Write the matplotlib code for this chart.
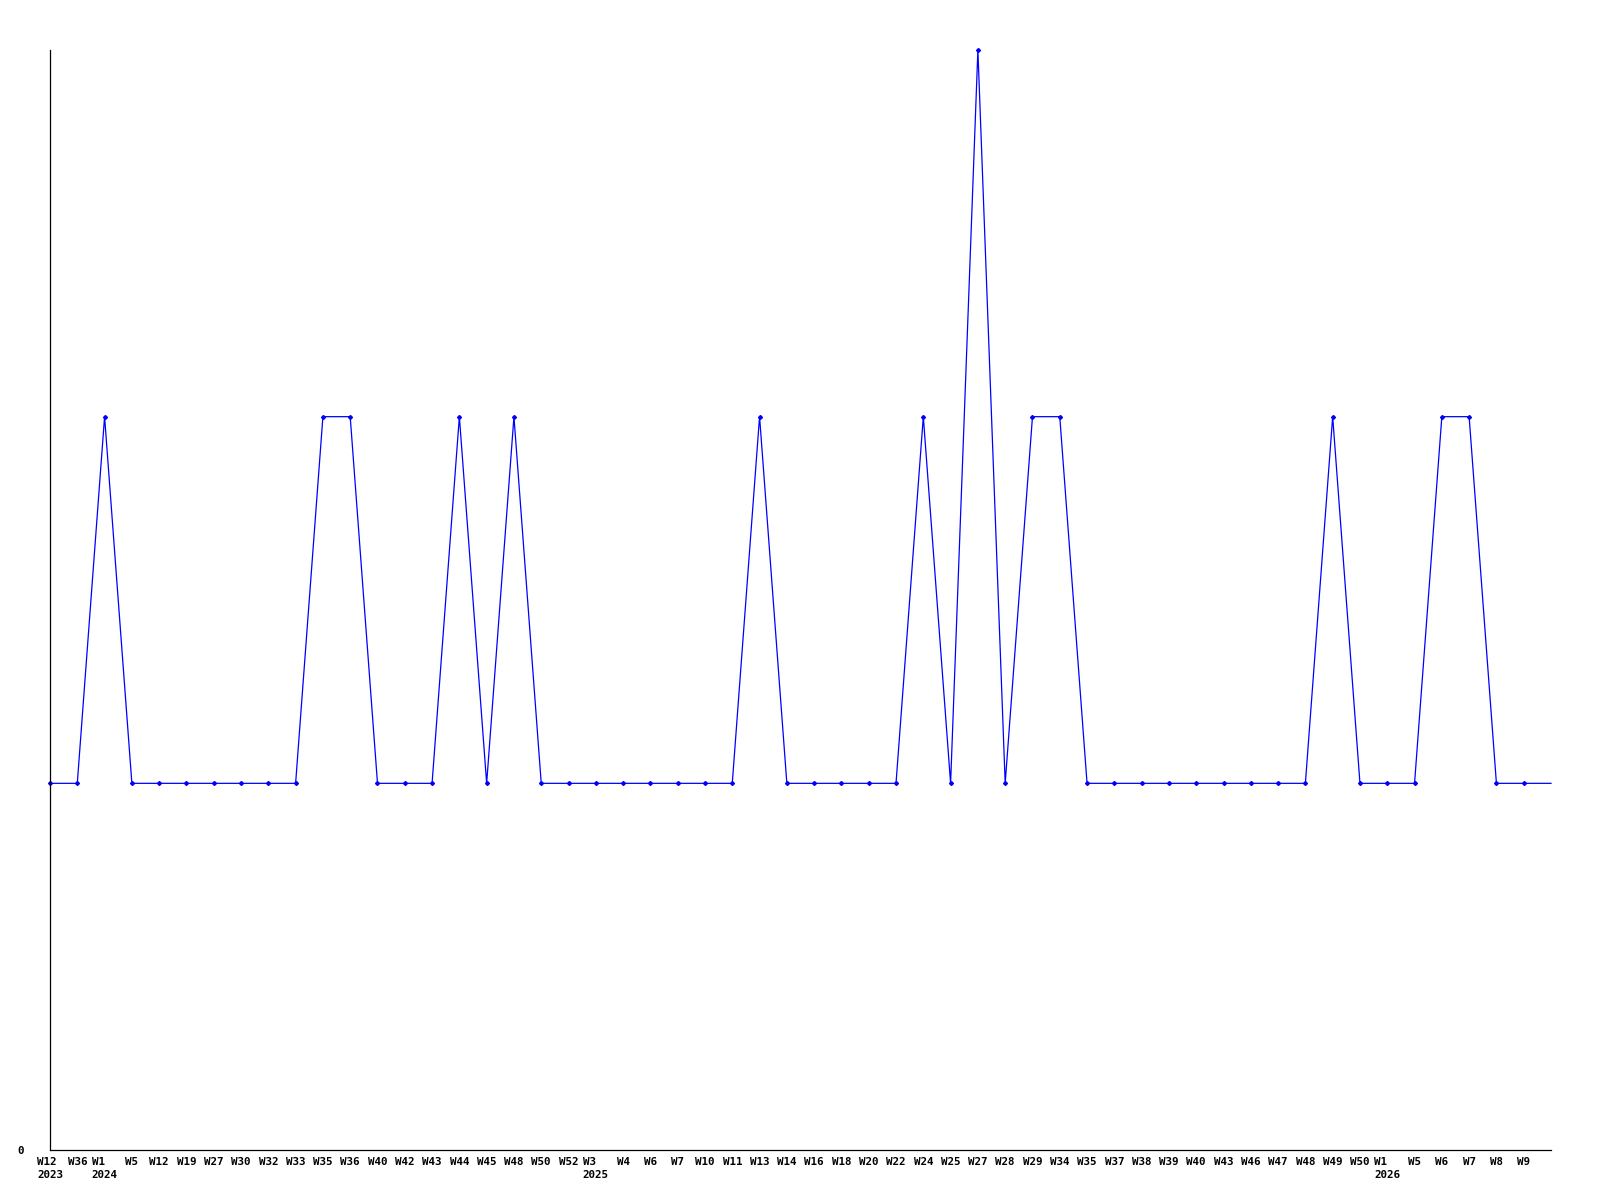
import matplotlib
matplotlib.use("Agg")
import matplotlib.pyplot as plt

weeks = ["W12", "W36", "W1", "W5", "W12", "W19", "W27", "W30", "W32", "W33",
         "W35", "W36", "W40", "W42", "W43", "W44", "W45", "W48", "W50", "W52",
         "W3", "W4", "W6", "W7", "W10", "W11", "W13", "W14", "W16", "W18",
         "W20", "W22", "W24", "W25", "W27", "W28", "W29", "W34", "W35", "W37",
         "W38", "W39", "W40", "W43", "W46", "W47", "W48", "W49", "W50", "W1",
         "W5", "W6", "W7", "W8", "W9"]
years = {0: "2023", 2: "2024", 20: "2025", 49: "2026"}
values = [1, 1, 2, 1, 1, 1, 1, 1, 1, 1,
          2, 2, 1, 1, 1, 2, 1, 2, 1, 1,
          1, 1, 1, 1, 1, 1, 2, 1, 1, 1,
          1, 1, 2, 1, 3, 1, 2, 2, 1, 1,
          1, 1, 1, 1, 1, 1, 1, 2, 1, 1,
          1, 2, 2, 1, 1, 1]  # last value continues past the final labelled week

fig = plt.figure(figsize=(16, 12), dpi=100)
ax = fig.add_axes([50/1600, 50/1200, 1501/1600, 1100/1200])

x = list(range(len(values)))
ax.plot(x, values, color="#0000ff", lw=0.9, marker="D", markersize=2.0,
        markevery=list(range(len(weeks))), clip_on=False)

ax.set_xlim(0, len(values) - 1)
ax.set_ylim(0, 3)

labels = [w + ("\n" + years[i] if i in years else "") for i, w in enumerate(weeks)]
ax.set_xticks(range(len(weeks)))
ax.set_xticklabels(labels, family="DejaVu Sans Mono", fontweight="bold",
                   fontsize=7.8, multialignment="left", linespacing=1.35,
                   va="top")
ax.set_yticks([0])
ax.set_yticklabels(["0"], family="DejaVu Sans Mono", fontweight="bold", fontsize=7.8)
ax.tick_params(axis="x", length=0, pad=5)
ax.tick_params(axis="y", length=0, pad=19)

for s in ["top", "right"]:
    ax.spines[s].set_visible(False)
for s in ["left", "bottom"]:
    ax.spines[s].set_color("black")
    ax.spines[s].set_linewidth(0.9)

fig.savefig("out.png", dpi=100, facecolor="white")
